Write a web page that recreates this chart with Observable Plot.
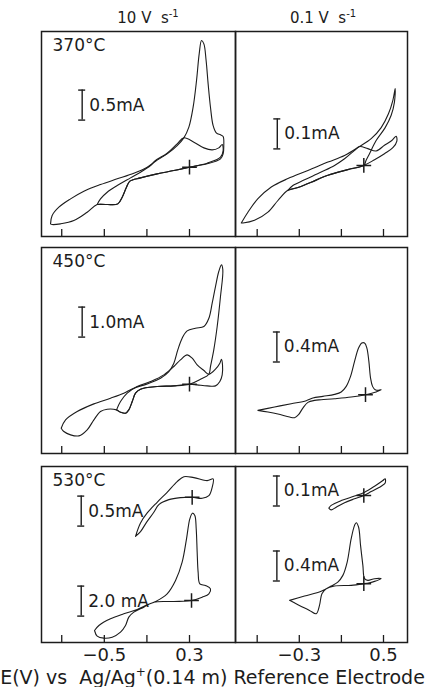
<!DOCTYPE html>
<html>
<head>
<meta charset="utf-8">
<script src="https://cdn.jsdelivr.net/npm/d3@7"></script>
<script src="https://cdn.jsdelivr.net/npm/@observablehq/plot@0.6"></script>
<style>
  body { margin: 0; background: #fff; }
  #fig { position: relative; width: 425px; height: 687px; font-family: "DejaVu Sans", sans-serif; color: #1c1c1c; overflow: hidden; }
  #fig svg { position: absolute; overflow: visible; }
  .rate { position: absolute; top: 11px; font-size: 15px; line-height: 1; white-space: nowrap; transform: translateX(-50%); }
  .rate sup { font-size: 10px; vertical-align: 6px; line-height: 0; }
  .xtitle { position: absolute; left: 0; width: 425px; top: 668px; text-align: center; font-size: 19px; line-height: 1; white-space: nowrap; }
  .xtitle sup { font-size: 12px; vertical-align: 8px; line-height: 0; }
</style>
</head>
<body>
<div id="fig"></div>
<script>
// ---- Cyclic voltammograms: potential E (V) and current I (mA, zero at the rest point "+") ----
const temperatures = ["370°C", "450°C", "530°C"];
const sweepRates = ["10 V", "0.1 V"];          // unit s^-1 added in markup
const ticksFast = [-0.9, -0.5, -0.1, 0.3];
const ticksSlow = [-0.7, -0.3, 0.1, 0.5];
const tickLabelsFast = [-0.5, 0.3];
const tickLabelsSlow = [-0.3, 0.5];

// 370 °C, 10 V/s : two sweeps
const cv370Fast1 = [[-1.005,-0.944],[-0.990,-0.806],[-0.927,-0.667],[-0.817,-0.528],[-0.692,-0.400],[-0.536,-0.289],[-0.379,-0.194],[-0.223,-0.100],[-0.097,0],[-0.019,0.100],[0.090,0.222],[0.184,0.361],[0.247,0.489],[0.294,0.667],[0.334,1.000],[0.366,1.444],[0.391,1.889],[0.413,2.111],[0.435,2.056],[0.456,1.778],[0.475,1.389],[0.497,1.000],[0.522,0.694],[0.554,0.567],[0.591,0.539],[0.616,0.511],[0.622,0.361],[0.616,0.222],[0.591,0.139],[0.466,0.056],[0.300,0],[0.153,-0.056],[-0.004,-0.111],[-0.160,-0.178],[-0.260,-0.233],[-0.292,-0.333],[-0.332,-0.500],[-0.373,-0.611],[-0.473,-0.622],[-0.567,-0.622],[-0.661,-0.750],[-0.786,-0.889],[-0.911,-0.944],[-0.990,-0.956],[-1.005,-0.944]];
const cv370Fast2 = [[-0.567,-0.622],[-0.536,-0.528],[-0.473,-0.417],[-0.379,-0.306],[-0.254,-0.178],[-0.160,-0.083],[-0.066,0.028],[-0.019,0.111],[0.090,0.233],[0.184,0.389],[0.247,0.489],[0.341,0.417],[0.435,0.322],[0.513,0.289],[0.575,0.322],[0.607,0.378],[0.616,0.278],[0.591,0.167],[0.466,0.067],[0.300,0],[0.153,-0.056],[-0.004,-0.111],[-0.160,-0.178],[-0.260,-0.233],[-0.292,-0.333],[-0.332,-0.500],[-0.373,-0.611],[-0.473,-0.622],[-0.567,-0.622]];

// 370 °C, 0.1 V/s : two sweeps
const cv370Slow1 = [[-0.851,-0.192],[-0.788,-0.156],[-0.693,-0.111],[-0.566,-0.072],[-0.408,-0.044],[-0.218,-0.017],[-0.028,0.011],[0.130,0.033],[0.272,0.063],[0.383,0.089],[0.478,0.126],[0.547,0.172],[0.589,0.217],[0.611,0.256],[0.604,0.211],[0.573,0.167],[0.516,0.126],[0.430,0.083],[0.367,0.039],[0.335,0.017],[0.313,0],[0.161,-0.014],[-0.028,-0.033],[-0.187,-0.056],[-0.313,-0.074],[-0.408,-0.083],[-0.503,-0.117],[-0.598,-0.156],[-0.725,-0.183],[-0.835,-0.192],[-0.851,-0.192]];
const cv370Slow2 = [[-0.408,-0.083],[-0.361,-0.067],[-0.250,-0.048],[-0.092,-0.022],[0.035,0],[0.130,0.022],[0.225,0.050],[0.272,0.063],[0.351,0.056],[0.430,0.048],[0.509,0.067],[0.579,0.083],[0.620,0.097],[0.627,0.081],[0.589,0.059],[0.509,0.039],[0.415,0.019],[0.313,0],[0.161,-0.014],[-0.028,-0.033],[-0.187,-0.056],[-0.313,-0.074],[-0.408,-0.083]];

// 450 °C, 10 V/s : two sweeps
const cv450Fast1 = [[-0.905,-1.467],[-0.864,-1.189],[-0.755,-0.911],[-0.598,-0.656],[-0.442,-0.467],[-0.317,-0.300],[-0.223,-0.133],[-0.097,0.011],[0.028,0.200],[0.106,0.422],[0.153,0.700],[0.190,1.144],[0.231,1.533],[0.278,1.778],[0.356,1.867],[0.435,1.922],[0.482,2.200],[0.513,2.700],[0.544,3.256],[0.575,3.756],[0.600,3.978],[0.613,3.811],[0.591,2.922],[0.560,1.922],[0.528,1.144],[0.497,0.589],[0.482,0.333],[0.403,0.167],[0.300,0],[0.153,-0.056],[-0.004,-0.078],[-0.160,-0.167],[-0.207,-0.300],[-0.238,-0.578],[-0.270,-0.856],[-0.301,-0.967],[-0.348,-0.933],[-0.385,-0.856],[-0.473,-0.833],[-0.536,-0.911],[-0.598,-1.189],[-0.661,-1.522],[-0.739,-1.722],[-0.817,-1.689],[-0.880,-1.578],[-0.905,-1.467]];
const cv450Fast2 = [[-0.385,-0.856],[-0.348,-0.578],[-0.285,-0.300],[-0.191,-0.078],[-0.066,0.089],[0.059,0.311],[0.153,0.589],[0.215,0.811],[0.278,0.978],[0.325,0.867],[0.372,0.644],[0.435,0.456],[0.482,0.333],[0.544,0.500],[0.585,0.700],[0.600,0.833],[0.610,0.644],[0.607,0.311],[0.585,0.089],[0.544,-0.056],[0.466,-0.056],[0.372,-0.022],[0.300,0],[0.153,-0.056],[-0.004,-0.078],[-0.160,-0.167],[-0.207,-0.300],[-0.238,-0.578],[-0.270,-0.856],[-0.301,-0.967],[-0.348,-0.933],[-0.385,-0.856]];

// 450 °C, 0.1 V/s
const cv450Slow = [[-0.693,-0.209],[-0.535,-0.164],[-0.377,-0.120],[-0.234,-0.080],[-0.171,-0.044],[-0.076,-0.022],[0.035,0.004],[0.098,0.036],[0.146,0.111],[0.187,0.244],[0.225,0.444],[0.263,0.622],[0.294,0.689],[0.320,0.689],[0.342,0.622],[0.361,0.444],[0.377,0.222],[0.396,0.111],[0.421,0.067],[0.453,0.058],[0.478,0.067],[0.430,0.036],[0.329,0],[0.193,-0.031],[0.035,-0.053],[-0.092,-0.067],[-0.155,-0.076],[-0.218,-0.102],[-0.266,-0.178],[-0.307,-0.267],[-0.345,-0.307],[-0.392,-0.298],[-0.503,-0.258],[-0.598,-0.231],[-0.693,-0.209]];

// 530 °C, 10 V/s : 0.5 mA and 2.0 mA traces
const cv530FastA = [[-0.207,-0.650],[-0.160,-0.428],[-0.097,-0.261],[-0.004,-0.083],[0.090,0.083],[0.184,0.261],[0.247,0.344],[0.341,0.328],[0.466,0.278],[0.522,0.306],[0.513,0.167],[0.482,0.028],[0.419,-0.017],[0.325,0],[0.215,-0.006],[0.106,-0.039],[0.012,-0.122],[-0.035,-0.250],[-0.104,-0.417],[-0.160,-0.572],[-0.207,-0.650]];
const cv530FastB = [[-0.592,-2.000],[-0.551,-1.667],[-0.442,-1.222],[-0.317,-0.889],[-0.191,-0.600],[-0.097,-0.289],[-0.019,-0.067],[0.090,0.444],[0.169,1.333],[0.231,2.556],[0.272,4.111],[0.303,5.444],[0.328,5.822],[0.350,5.667],[0.363,4.778],[0.372,3.222],[0.381,1.889],[0.397,1.111],[0.450,1.000],[0.497,0.778],[0.482,0.444],[0.419,0.222],[0.319,0],[0.153,-0.067],[-0.035,-0.111],[-0.129,-0.444],[-0.223,-0.778],[-0.270,-1.111],[-0.301,-1.667],[-0.348,-2.111],[-0.426,-2.444],[-0.504,-2.511],[-0.567,-2.378],[-0.592,-2.000]];

// 530 °C, 0.1 V/s : 0.1 mA and 0.4 mA traces
const cv530SlowA = [[-0.019,-0.042],[0.003,-0.033],[0.098,-0.017],[0.225,-0.002],[0.320,0.011],[0.415,0.031],[0.494,0.050],[0.516,0.056],[0.516,0.042],[0.478,0.031],[0.383,0.013],[0.313,0],[0.225,-0.011],[0.130,-0.024],[0.051,-0.039],[0.003,-0.048],[-0.019,-0.042]];
const cv530SlowB = [[-0.392,-0.222],[-0.250,-0.164],[-0.092,-0.102],[0.003,-0.031],[0.066,0.022],[0.114,0.111],[0.155,0.289],[0.193,0.600],[0.225,0.778],[0.241,0.813],[0.263,0.756],[0.282,0.511],[0.304,0.244],[0.320,0.067],[0.351,0.044],[0.415,0.067],[0.478,0.067],[0.415,0.031],[0.367,0.013],[0.313,0],[0.193,-0.022],[0.035,-0.031],[-0.044,-0.067],[-0.085,-0.133],[-0.108,-0.289],[-0.139,-0.400],[-0.203,-0.356],[-0.313,-0.280],[-0.392,-0.222]];

// Each trace: its sweeps, the current of its scale bar (mA) and the rest potential (V)
const traces = [
  {id: "370f",  row: 0, col: 0, cycles: [cv370Fast1, cv370Fast2], barMA: 0.5, rest: 0.300, label: "0.5mA"},
  {id: "370s",  row: 0, col: 1, cycles: [cv370Slow1, cv370Slow2], barMA: 0.1, rest: 0.313, label: "0.1mA"},
  {id: "450f",  row: 1, col: 0, cycles: [cv450Fast1, cv450Fast2], barMA: 1.0, rest: 0.300, label: "1.0mA"},
  {id: "450s",  row: 1, col: 1, cycles: [cv450Slow],              barMA: 0.4, rest: 0.329, label: "0.4mA"},
  {id: "530fA", row: 2, col: 0, cycles: [cv530FastA],             barMA: 0.5, rest: 0.325, label: "0.5mA"},
  {id: "530fB", row: 2, col: 0, cycles: [cv530FastB],             barMA: 2.0, rest: 0.319, label: "2.0 mA"},
  {id: "530sA", row: 2, col: 1, cycles: [cv530SlowA],             barMA: 0.1, rest: 0.313, label: "0.1mA"},
  {id: "530sB", row: 2, col: 1, cycles: [cv530SlowB],             barMA: 0.4, rest: 0.313, label: "0.4mA"}
];

// ---- Layout: panel geometry and where each trace sits (in scale-bar divisions from the panel floor) ----
const PX_PER_DIV = 30;
const colX = [41, 235], colW = [194, 172];
const rowY = [31, 247, 466], rowH = [205, 206, 176];
const xDomains = [[-1.09, 0.732], [-0.906, 0.728]];
const placement = {
  "370f":  {origin: 2.31, barE: -0.708, barAt: 3.88},
  "370s":  {origin: 2.37, barE: -0.509, barAt: 2.92},
  "450f":  {origin: 2.31, barE: -0.708, barAt: 3.88},
  "450s":  {origin: 1.96, barE: -0.513, barAt: 3.05},
  "530fA": {origin: 4.84, barE: -0.717, barAt: 3.88},
  "530fB": {origin: 1.40, barE: -0.717, barAt: 0.88},
  "530sA": {origin: 4.90, barE: -0.513, barAt: 4.55},
  "530sB": {origin: 1.96, barE: -0.513, barAt: 2.05}
};
const ink = "#1c1c1c";
const fig = document.getElementById("fig");
const fmt = d3.format(".1f");

function drawPanel(row, col) {
  const w = colW[col], h = rowH[row];
  const last = row === temperatures.length - 1;
  const mb = last ? 34 : 1;
  const dom = xDomains[col];
  const capV = 3.5 * (dom[1] - dom[0]) / w;   // half-width of the scale-bar serifs
  const marks = [
    Plot.frame({stroke: ink, strokeWidth: 1.5}),
    Plot.ruleX(col === 0 ? ticksFast : ticksSlow, {x: d => d, insetTop: h - 7, stroke: ink, strokeWidth: 1.3})
  ];
  if (col === 0) {
    marks.push(Plot.text([temperatures[row]], {frameAnchor: "top-left", dx: 11, dy: 14, textAnchor: "start", lineAnchor: "middle", fontSize: 17, fill: ink}));
  }
  for (const t of traces.filter(t => t.row === row && t.col === col)) {
    const p = placement[t.id];
    const toDiv = I => p.origin + I / t.barMA;
    const pts = t.cycles.flatMap((c, k) => c.map(([E, I]) => ({E, y: toDiv(I), k})));
    marks.push(Plot.line(pts, {x: "E", y: "y", z: "k", curve: "catmull-rom", stroke: ink, strokeWidth: 1.1, strokeLinejoin: "round"}));
    marks.push(Plot.dot([t.rest], {x: d => d, y: () => toDiv(0), symbol: "plus", r: 4.8, stroke: ink, strokeWidth: 1.5}));
    marks.push(Plot.ruleX([p.barE], {x: d => d, y1: p.barAt, y2: p.barAt + 1, stroke: ink, strokeWidth: 1.4}));
    marks.push(Plot.ruleY([p.barAt, p.barAt + 1], {y: d => d, x1: p.barE - capV, x2: p.barE + capV, stroke: ink, strokeWidth: 1.4}));
    marks.push(Plot.text([t.label], {x: () => p.barE, y: () => p.barAt + 0.5, dx: 7, textAnchor: "start", fontSize: 17, fill: ink}));
  }
  if (last) {
    marks.push(Plot.axisX(col === 0 ? tickLabelsFast : tickLabelsSlow, {tickSize: 0, tickPadding: 6, fontSize: 18, label: null, fill: ink, tickFormat: fmt}));
  }
  const svg = Plot.plot({
    width: w + 2, height: h + 1 + mb,
    marginTop: 1, marginLeft: 1, marginRight: 1, marginBottom: mb,
    x: last ? {domain: dom, label: null} : {domain: dom, axis: null},
    y: {domain: [0, h / PX_PER_DIV], axis: null},
    style: {fontFamily: "DejaVu Sans, sans-serif", background: "transparent", color: ink},
    marks
  });
  svg.style.left = (colX[col] - 1) + "px";
  svg.style.top = (rowY[row] - 1) + "px";
  fig.appendChild(svg);
}

temperatures.forEach((_, r) => [0, 1].forEach(c => drawPanel(r, c)));

// Column headings (sweep rate) and the potential axis title
[148, 323].forEach((cx, i) => {
  const d = document.createElement("div");
  d.className = "rate";
  d.style.left = cx + "px";
  d.innerHTML = sweepRates[i] + "&nbsp; s<sup>-1</sup>";
  fig.appendChild(d);
});
const xt = document.createElement("div");
xt.className = "xtitle";
xt.innerHTML = "E(V) vs&nbsp; Ag/Ag<sup>+</sup>(0.14 m) Reference Electrode";
fig.appendChild(xt);
</script>
</body>
</html>
